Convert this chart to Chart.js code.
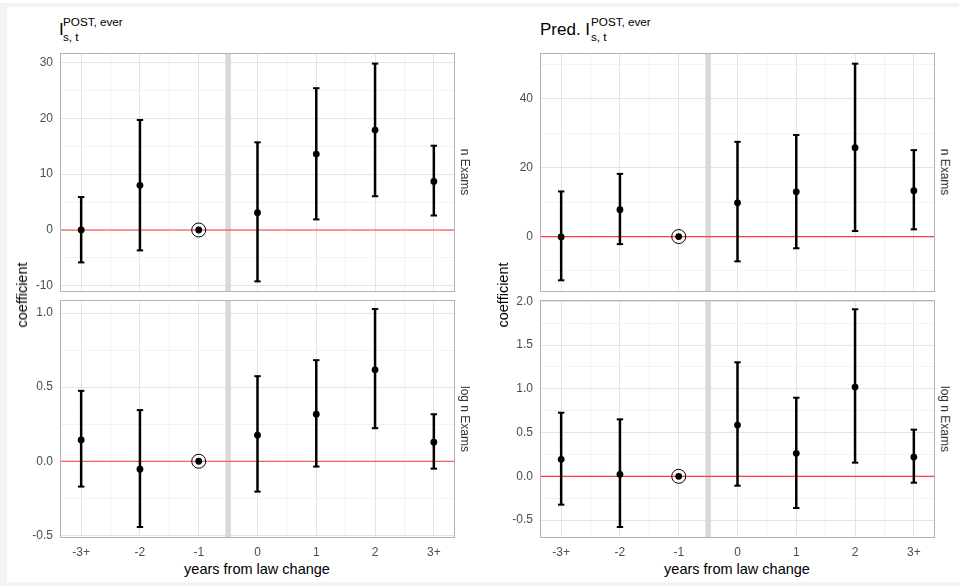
<!DOCTYPE html>
<html>
<head>
<meta charset="utf-8">
<script src="https://cdn.jsdelivr.net/npm/chart.js@4.4.1/dist/chart.umd.min.js"></script>
<style>
  html, body { margin: 0; padding: 0; width: 959px; height: 586px; overflow: hidden; background: #f3f3f3;
    font-family: "Liberation Sans", Arial, sans-serif; }
  #topstrip { position: absolute; left: 0; top: 0; width: 959px; height: 3px; background: #fff; }
  #page { position: absolute; left: 7px; top: 7px; width: 952px; height: 575px; background: #fff; }
  .box { position: absolute; }
  .txt { position: absolute; white-space: nowrap; color: #000; }
  .rot { transform: translate(-50%, -50%) rotate(-90deg); font-size: 14.5px; }
  .strip { transform: translate(-50%, -50%) rotate(90deg); font-size: 12px; color: #333; }
  .xt { transform: translate(-50%, -50%); font-size: 14.5px; }
</style>
</head>
<body>
<div id="topstrip"></div>
<div id="page"></div>

<!-- titles -->
<div class="txt" style="left:59px;top:21px;font-size:17px;line-height:17px">I</div>
<div class="txt" style="left:63px;top:14px;font-size:11.7px;line-height:15px">POST, ever<br>s, t</div>
<div class="txt" style="left:540px;top:21px;font-size:17px;line-height:17px">Pred. I</div>
<div class="txt" style="left:591px;top:14px;font-size:11.7px;line-height:15px">POST, ever<br>s, t</div>

<div class="box" style="left:15px;top:45px;width:440px;height:247px"><canvas id="tl"></canvas></div>
<div class="box" style="left:15px;top:292px;width:440px;height:266px"><canvas id="bl"></canvas></div>
<div class="box" style="left:495px;top:45px;width:440px;height:247px"><canvas id="tr"></canvas></div>
<div class="box" style="left:495px;top:292px;width:440px;height:266px"><canvas id="br"></canvas></div>

<div class="txt rot" style="left:22px;top:295px">coefficient</div>
<div class="txt rot" style="left:503px;top:295px">coefficient</div>
<div class="txt xt" style="left:257px;top:569px">years from law change</div>
<div class="txt xt" style="left:737px;top:569px">years from law change</div>
<div class="txt strip" style="left:465px;top:172px">n Exams</div>
<div class="txt strip" style="left:465px;top:419px">log n Exams</div>
<div class="txt strip" style="left:945px;top:172px">n Exams</div>
<div class="txt strip" style="left:945px;top:419px">log n Exams</div>

<script>
// event study: years from law change, year -1 is the reference
const years = [-3, -2, -1, 0, 1, 2, 3];
const yearLabels = ['-3+', '-2', '-1', '0', '1', '2', '3+'];
const refYear = -1;
const lawLine = -0.5;

// I POST ever — n Exams
const nCoef = [0.0, 8.0, 0, 3.1, 13.6, 17.9, 8.7];
const nLo   = [-5.8, -3.65, null, -9.2, 1.9, 6.05, 2.6];
const nHi   = [5.9, 19.7, null, 15.7, 25.4, 29.8, 15.1];

// I POST ever — log n Exams
const logCoef = [0.144, -0.054, 0, 0.176, 0.317, 0.617, 0.128];
const logLo   = [-0.171, -0.444, null, -0.205, -0.036, 0.223, -0.05];
const logHi   = [0.475, 0.345, null, 0.574, 0.682, 1.027, 0.317];

// Pred. I POST ever — n Exams
const pnCoef = [-0.1, 7.8, 0, 9.8, 13.0, 25.8, 13.3];
const pnLo   = [-12.7, -2.2, null, -7.2, -3.4, 1.6, 2.1];
const pnHi   = [13.1, 18.2, null, 27.5, 29.5, 50.2, 25.1];

// Pred. I POST ever — log n Exams
const plogCoef = [0.194, 0.023, 0, 0.586, 0.263, 1.02, 0.22];
const plogLo   = [-0.324, -0.579, null, -0.107, -0.362, 0.156, -0.073];
const plogHi   = [0.727, 0.651, null, 1.303, 0.898, 1.909, 0.533];

// y axis ticks (major labelled, minor only grid)
const nMajor = [-10, 0, 10, 20, 30],        nMinor = [-5, 5, 15, 25];
const logMajor = [-0.5, 0, 0.5, 1],         logMinor = [-0.25, 0.25, 0.75];
const pnMajor = [0, 20, 40],                pnMinor = [-10, 10, 30, 50];
const plogMajor = [-0.5, 0, 0.5, 1, 1.5, 2], plogMinor = [-0.25, 0.25, 0.75, 1.25, 1.75];

const X_MIN = -3.36, X_MAX = 3.36;
const FONT = '"Liberation Sans", Arial, sans-serif';
const GRID_MAJOR = '#e4e4e4', GRID_MINOR = '#f2f2f2';

const frame = {
  id: 'frame',
  afterDatasetsDraw(chart) {
    const { ctx, chartArea: a } = chart;
    ctx.save();
    ctx.strokeStyle = '#b3b3b3';
    ctx.lineWidth = 1;
    ctx.strokeRect(a.left + 0.5, a.top + 0.5, a.right - a.left - 1, a.bottom - a.top - 1);
    ctx.restore();
  }
};

function makePanel(id, coef, lo, hi, yMin, yMax, major, minor, showX, dec) {
  const pts = years.map((x, i) => ({ x, y: coef[i] }));
  const whisk = [], caps = [];
  years.forEach((x, i) => {
    if (lo[i] == null) return;
    whisk.push({ x, y: lo[i] }, { x, y: hi[i] }, { x, y: null });
    caps.push({ x, y: lo[i] }, { x, y: hi[i] });
  });
  const ri = years.indexOf(refYear);
  const yTicks = major.concat(minor).sort((a, b) => a - b);
  const xTicks = years.flatMap((v, i) => i ? [v - 0.5, v] : [v]);

  new Chart(document.getElementById(id), {
    type: 'scatter',
    data: {
      datasets: [
        { data: pts, order: 0, pointRadius: 3.4, pointBackgroundColor: '#000', pointBorderWidth: 0 },
        { data: [{ x: years[ri], y: coef[ri] }], order: 1, pointRadius: 7,
          pointBackgroundColor: 'rgba(0,0,0,0)', pointBorderColor: '#000', pointBorderWidth: 1 },
        { data: caps, order: 2, pointStyle: 'line', pointRadius: 3.2, pointBorderColor: '#000', pointBorderWidth: 2 },
        { type: 'line', data: whisk, order: 3, borderColor: '#000', borderWidth: 2.5, pointRadius: 0, spanGaps: false },
        { type: 'line', data: [{ x: X_MIN, y: 0 }, { x: X_MAX, y: 0 }], order: 4,
          borderColor: '#ff3b3b', borderWidth: 1.2, pointRadius: 0 },
        { type: 'line', data: [{ x: lawLine, y: yMin }, { x: lawLine, y: yMax }], order: 5,
          borderColor: '#d9d9d9', borderWidth: 5.5, pointRadius: 0 }
      ]
    },
    options: {
      responsive: true, maintainAspectRatio: false, animation: false, events: [],
      layout: { padding: { top: 8, left: 0, right: 0, bottom: 0 }, autoPadding: false },
      plugins: { legend: { display: false }, tooltip: { enabled: false } },
      scales: {
        x: {
          type: 'linear', min: X_MIN, max: X_MAX, bounds: 'data',
          afterBuildTicks: s => { s.ticks = xTicks.map(v => ({ value: v })); },
          afterFit: s => { s.height = showX ? 20 : 0; s.paddingLeft = 0; s.paddingRight = 0; },
          grid: { drawTicks: false, lineWidth: 1,
            color: c => Number.isInteger(c.tick && c.tick.value) ? GRID_MAJOR : GRID_MINOR },
          border: { display: false },
          ticks: { display: showX, autoSkip: false, maxRotation: 0, padding: 7, color: '#4d4d4d',
            font: { size: 12, family: FONT },
            callback: v => Number.isInteger(v) ? yearLabels[years.indexOf(v)] : '' }
        },
        y: {
          type: 'linear', min: yMin, max: yMax, bounds: 'data',
          afterBuildTicks: s => { s.ticks = yTicks.map(v => ({ value: v })); },
          afterFit: s => { s.width = 45; s.paddingTop = 0; s.paddingBottom = 0; },
          grid: { drawTicks: false, lineWidth: 1,
            color: c => major.includes(c.tick && c.tick.value) ? GRID_MAJOR : GRID_MINOR },
          border: { display: false },
          ticks: { autoSkip: false, padding: 7, color: '#4d4d4d', font: { size: 12, family: FONT },
            callback: v => major.includes(v) ? v.toFixed(dec) : '' }
        }
      }
    },
    plugins: [frame]
  });
}

makePanel('tl', nCoef, nLo, nHi, -11.1, 31.7, nMajor, nMinor, false, 0);
makePanel('bl', logCoef, logLo, logHi, -0.518, 1.088, logMajor, logMinor, true, 1);
makePanel('tr', pnCoef, pnLo, pnHi, -16.1, 53.3, pnMajor, pnMinor, false, 0);
makePanel('br', plogCoef, plogLo, plogHi, -0.705, 2.015, plogMajor, plogMinor, true, 1);
</script>
</body>
</html>
